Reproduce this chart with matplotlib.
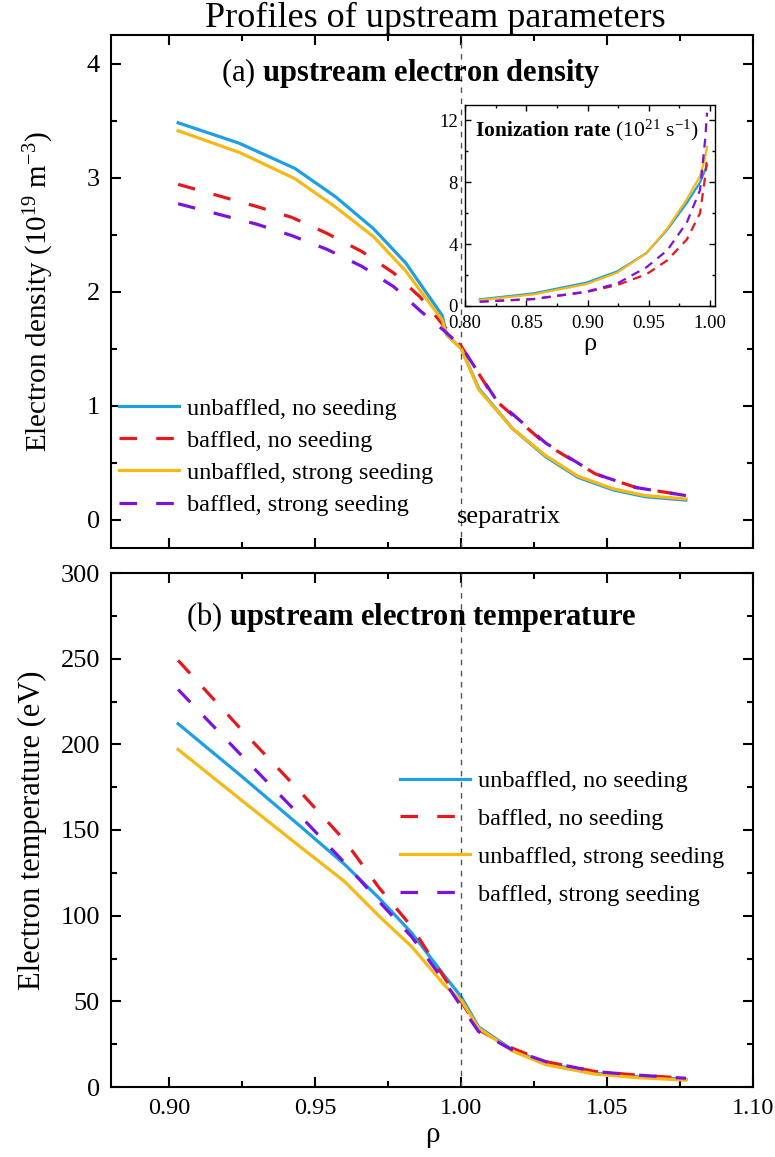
import matplotlib
matplotlib.use('Agg')
import matplotlib.pyplot as plt
from matplotlib.ticker import MultipleLocator

plt.rcParams['font.family'] = ['Liberation Serif', 'DejaVu Serif']
plt.rcParams['mathtext.fontset'] = 'custom'
plt.rcParams['mathtext.rm'] = 'Liberation Serif'
plt.rcParams['mathtext.bf'] = 'Liberation Serif:bold'
plt.rcParams['mathtext.it'] = 'Liberation Serif:italic'

# ---- data ----
labels = ['unbaffled, no seeding', 'baffled, no seeding',
          'unbaffled, strong seeding', 'baffled, strong seeding']
colors = ['#1c9fe4', '#e8161d', '#f5b815', '#7b12e0']

# (a) upstream electron density (1e19 m^-3)
rho_a_solid = [0.903, 0.924, 0.943, 0.957, 0.970, 0.981, 0.9935, 0.995,
               1.000, 1.006, 1.0175, 1.029, 1.040, 1.052, 1.063, 1.077]
ne_unbaf_noseed = [3.48, 3.30, 3.08, 2.83, 2.55, 2.25, 1.79, 1.62,
                   1.50, 1.15, 0.80, 0.55, 0.37, 0.26, 0.20, 0.17]
ne_unbaf_seed = [3.41, 3.22, 2.99, 2.74, 2.48, 2.18, 1.75, 1.62,
                 1.50, 1.14, 0.80, 0.56, 0.38, 0.27, 0.21, 0.18]
rho_a_dash = [0.903, 0.930, 0.942, 0.954, 0.966, 0.977, 0.986, 0.994,
              1.000, 1.012, 1.029, 1.046, 1.060, 1.077]
ne_baf_noseed = [2.94, 2.745, 2.65, 2.51, 2.35, 2.16, 1.95, 1.70,
                 1.52, 1.04, 0.66, 0.40, 0.28, 0.21]
ne_baf_seed = [2.77, 2.59, 2.49, 2.37, 2.22, 2.04, 1.83, 1.66,
               1.52, 1.05, 0.67, 0.40, 0.28, 0.21]

# inset: ionization rate (1e21 s^-1)
rho_ion = [0.812, 0.856, 0.899, 0.924, 0.948, 0.965, 0.981, 0.9918, 0.996, 0.9975]
ion_unbaf_noseed = [0.43, 0.82, 1.51, 2.23, 3.42, 4.93, 6.66, 8.0, 8.8, 9.1]
ion_baf_noseed = [0.28, 0.45, 0.90, 1.35, 2.05, 2.95, 4.30, 6.0, 8.4, 9.6]
ion_unbaf_seed = [0.38, 0.75, 1.42, 2.15, 3.42, 5.00, 6.90, 8.4, 9.6, 10.3]
ion_baf_seed = [0.28, 0.45, 0.93, 1.45, 2.50, 3.60, 5.40, 7.5, 10.8, 12.5]

# (b) upstream electron temperature (eV)
rho_b = [0.903, 0.925, 0.945, 0.960, 0.972, 0.983, 0.9947, 1.000,
         1.006, 1.0176, 1.029, 1.046, 1.060, 1.077]
te_unbaf_noseed = [212, 181, 152, 130, 110, 90, 64, 52.7,
                   35, 21.6, 13.8, 8.0, 6.0, 4.5]
te_baf_noseed = [249, 208, 172, 144, 116, 93.6, 62.5, 50,
                 33.3, 22.6, 14.8, 9.0, 7.0, 5.1]
te_unbaf_seed = [197, 167, 140, 120, 99.5, 82, 58.6, 50.8,
                 34.3, 21, 13, 7.5, 5.5, 4.0]
te_baf_seed = [232, 193, 158, 131, 108, 87.7, 60.6, 47,
               32.3, 21.6, 14.8, 9.0, 7.0, 5.1]

W, H = 775, 1157
L, R = 111, 753
fig = plt.figure(figsize=(W / 100, H / 100), dpi=100)
ax1 = fig.add_axes([L / W, 1 - 548 / H, (R - L) / W, 513 / H])
ax2 = fig.add_axes([L / W, 1 - 1087 / H, (R - L) / W, 514 / H])
axi = fig.add_axes([465 / W, 1 - 306 / H, 250 / W, 201 / H])

dash = (5.5, 6)


def style(ax, xmaj, xmin, ymaj, ymin, size, lw=1.5, ml=7, mnl=4):
    ax.xaxis.set_major_locator(MultipleLocator(xmaj))
    ax.xaxis.set_minor_locator(MultipleLocator(xmin))
    ax.yaxis.set_major_locator(MultipleLocator(ymaj))
    ax.yaxis.set_minor_locator(MultipleLocator(ymin))
    ax.tick_params(which='both', direction='in', top=True, right=True,
                   width=lw, labelsize=size)
    ax.tick_params(which='major', length=ml)
    ax.tick_params(which='minor', length=mnl)
    for s in ax.spines.values():
        s.set_linewidth(lw)


# ---- panel (a) ----
ax1.plot(rho_a_solid, ne_unbaf_noseed, color=colors[0], lw=2.3, label=labels[0])
ax1.plot(rho_a_dash, ne_baf_noseed, color=colors[1], lw=2.3, dashes=dash, label=labels[1])
ax1.plot(rho_a_solid, ne_unbaf_seed, color=colors[2], lw=2.3, label=labels[2])
ax1.plot(rho_a_dash, ne_baf_seed, color=colors[3], lw=2.3, dashes=dash, label=labels[3])
ax1.axvline(1.0, color='#555555', lw=1.0, dashes=(4, 4))
ax1.set_xlim(0.88, 1.10)
ax1.set_ylim(-0.25, 4.25)
style(ax1, 0.05, 0.025, 1, 0.5, 19)
ax1.tick_params(labelbottom=False)
ax1.tick_params(axis='y', pad=8)
ax1.set_ylabel('Electron density (10$^{19}$ m$^{-3}$)', fontsize=21)
ax1.yaxis.set_label_coords(-0.085, 0.5)
ax1.text(0.467, 0.926, r'(a) $\mathbf{upstream\ electron\ density}$',
         transform=ax1.transAxes, ha='center', va='center', fontsize=22)
ax1.text(0.9985, 0.02, 'separatrix', fontsize=19, ha='left', va='center')
ax1.legend(loc='lower left', bbox_to_anchor=(0.012, 0.062), frameon=False,
           fontsize=17.5, handlelength=2.5, handletextpad=0.3,
           labelspacing=0.42, borderpad=0, borderaxespad=0)

# ---- inset ----
axi.plot(rho_ion, ion_unbaf_noseed, color=colors[0], lw=1.6)
axi.plot(rho_ion, ion_baf_noseed, color=colors[1], lw=1.6, dashes=(4, 3))
axi.plot(rho_ion, ion_unbaf_seed, color=colors[2], lw=1.6)
axi.plot(rho_ion, ion_baf_seed, color=colors[3], lw=1.6, dashes=(4, 3))
axi.set_xlim(0.80, 1.004)
axi.set_ylim(0, 13)
style(axi, 0.05, 0.025, 4, 2, 13.5, lw=1.0, ml=4, mnl=2.5)
axi.tick_params(axis='x', pad=6.5)
axi.tick_params(axis='y', pad=5)
axi.set_xlabel('ρ', fontsize=19, labelpad=1)
axi.text(0.04, 0.876, r'$\mathbf{Ionization\ rate}$ (10$^{21}$ s$^{-1}$)',
         transform=axi.transAxes, ha='left', va='center', fontsize=15.5)

# ---- panel (b) ----
ax2.plot(rho_b, te_unbaf_noseed, color=colors[0], lw=2.3, label=labels[0])
ax2.plot(rho_b, te_baf_noseed, color=colors[1], lw=2.3, dashes=dash, label=labels[1])
ax2.plot(rho_b, te_unbaf_seed, color=colors[2], lw=2.3, label=labels[2])
ax2.plot(rho_b, te_baf_seed, color=colors[3], lw=2.3, dashes=dash, label=labels[3])
ax2.axvline(1.0, color='#555555', lw=1.0, dashes=(4, 4))
ax2.set_xlim(0.88, 1.10)
ax2.set_ylim(0, 300)
style(ax2, 0.05, 0.025, 50, 25, 19)
ax2.xaxis.set_major_formatter(plt.FuncFormatter(lambda v, p: f'{v:.2f}'))
ax2.tick_params(axis='x', pad=8, labelsize=17.5)
ax2.tick_params(axis='y', pad=8)
ax2.set_xlabel('ρ', fontsize=21, labelpad=2)
ax2.set_ylabel('Electron temperature (eV)', fontsize=22)
ax2.yaxis.set_label_coords(-0.1, 0.5)
ax2.text(0.467, 0.915, r'(b) $\mathbf{upstream\ electron\ temperature}$',
         transform=ax2.transAxes, ha='center', va='center', fontsize=22)
ax2.legend(loc='lower left', bbox_to_anchor=(0.45, 0.353), frameon=False,
           fontsize=17.5, handlelength=2.9, handletextpad=0.3,
           labelspacing=0.65, borderpad=0, borderaxespad=0)

fig.text(435 / W, 1 - 18 / H, 'Profiles of upstream parameters',
         ha='center', va='center', fontsize=26)

fig.savefig('out.png', dpi=100)
